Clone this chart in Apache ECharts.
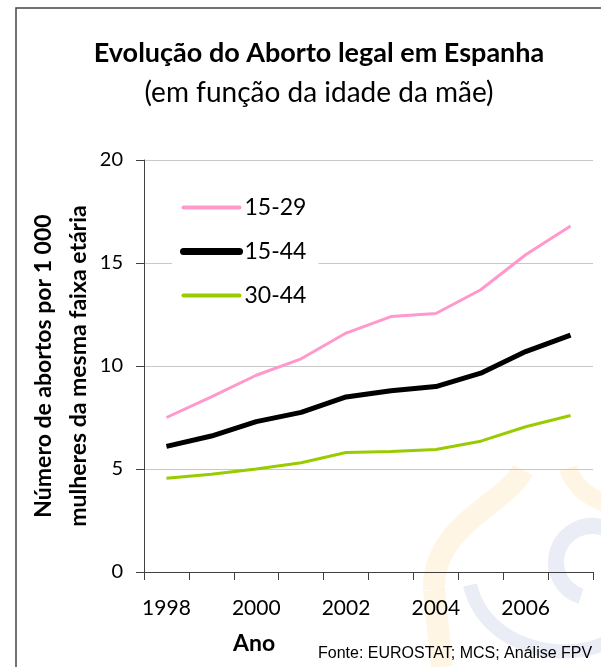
<!DOCTYPE html>
<html>
<head>
<meta charset="utf-8">
<script src="https://cdn.jsdelivr.net/npm/echarts@6/dist/echarts.min.js"></script>
<style>
  html, body { margin: 0; padding: 0; background: #fff; }
  #chart { width: 601px; height: 667px; }
</style>
</head>
<body>
<div id="chart"></div>
<script>
var anos = ['1998', '1999', '2000', '2001', '2002', '2003', '2004', '2005', '2006', '2007'];
var idade15a29 = [7.5, 8.5, 9.55, 10.35, 11.6, 12.4, 12.55, 13.7, 15.4, 16.8];
var idade15a44 = [6.1, 6.6, 7.3, 7.75, 8.5, 8.8, 9.0, 9.65, 10.7, 11.5];
var idade30a44 = [4.55, 4.75, 5.0, 5.3, 5.8, 5.85, 5.95, 6.35, 7.05, 7.6];

var fonte = 'Lato, "Open Sans", sans-serif';
var laranja = 'rgba(250,200,110,0.18)';
var azul = 'rgba(140,150,205,0.18)';
var myChart = echarts.init(document.getElementById('chart'));

var option = {
    backgroundColor: '#fff',
    textStyle: { fontFamily: fonte },
    animation: false,
    title: [
        {
            text: 'Evolução do Aborto legal em Espanha',
            left: 314, top: 35, textAlign: 'center',
            textStyle: { fontSize: 27, fontWeight: 'bold', color: '#000', fontFamily: fonte }
        },
        {
            text: '(em função da idade da mãe)',
            left: 314, top: 74, textAlign: 'center',
            textStyle: { fontSize: 28, fontWeight: 'normal', color: '#000', fontFamily: fonte }
        }
    ],
    legend: {
        orient: 'vertical',
        left: 172, top: 190,
        padding: [6, 12, 6, 8],
        backgroundColor: '#fff',
        itemWidth: 56, itemHeight: 14,
        itemGap: 21,
        itemStyle: { opacity: 0 },
        textStyle: { fontSize: 23, color: '#000', fontFamily: fonte },
        data: [
            { name: '15-29', lineStyle: { width: 4, cap: 'round' } },
            { name: '15-44', lineStyle: { width: 7, cap: 'round' } },
            { name: '30-44', lineStyle: { width: 4, cap: 'round' } }
        ]
    },
    grid: { left: 144, right: 8, top: 160, bottom: 95 },
    xAxis: {
        type: 'category',
        data: anos,
        boundaryGap: true,
        axisLine: { lineStyle: { color: '#404040', width: 1 } },
        axisTick: { show: true, interval: 0, length: 8, lineStyle: { color: '#404040' } },
        axisLabel: { interval: 1, fontSize: 21, color: '#000', margin: 26 },
        splitLine: { show: false }
    },
    yAxis: {
        type: 'value',
        min: 0, max: 20, interval: 5,
        axisLine: { show: true, lineStyle: { color: '#404040', width: 1 } },
        axisTick: { show: true, length: 8, lineStyle: { color: '#404040' } },
        axisLabel: { fontSize: 20, color: '#000', margin: 21 },
        splitLine: { lineStyle: { color: '#c8c8c8', width: 1 } }
    },
    graphic: [
        { type: 'rect', shape: { x: 16, y: 8, width: 800, height: 800 }, style: { fill: 'none', stroke: '#444', lineWidth: 1.5 }, silent: true },
        // marca de água (logótipo esbatido)
        { type: 'bezierCurve', shape: { x1: 523, y1: 470, cpx1: 505, cpy1: 505, cpx2: 432, cpy2: 525, x2: 434, y2: 590 }, style: { fill: 'none', stroke: laranja, lineWidth: 22 }, silent: true, z: -1 },
        { type: 'line', shape: { x1: 434, y1: 590, x2: 442, y2: 667 }, style: { stroke: laranja, lineWidth: 22 }, silent: true, z: -1 },
        { type: 'bezierCurve', shape: { x1: 568, y1: 468, cpx1: 575, cpy1: 490, cpx2: 595, cpy2: 500, x2: 610, y2: 505 }, style: { fill: 'none', stroke: laranja, lineWidth: 18 }, silent: true, z: -1 },
        { type: 'arc', shape: { cx: 592, cy: 562, r: 36, startAngle: Math.PI * 0.6, endAngle: Math.PI * 1.9 }, style: { fill: 'none', stroke: azul, lineWidth: 16 }, silent: true, z: -1 },
        { type: 'bezierCurve', shape: { x1: 470, y1: 585, cpx1: 485, cpy1: 650, cpx2: 570, cpy2: 665, x2: 610, y2: 640 }, style: { fill: 'none', stroke: azul, lineWidth: 14 }, silent: true, z: -1 },
        {
            type: 'text', x: 61, y: 366, rotation: Math.PI / 2,
            style: {
                text: 'Número de abortos por 1 000\nmulheres da mesma faixa etária',
                font: 'bold 23px ' + fonte, fill: '#000', align: 'center', verticalAlign: 'middle', lineHeight: 35
            }
        },
        { type: 'text', left: 233, top: 632, style: { text: 'Ano', font: 'bold 23px ' + fonte, fill: '#000' } },
        { type: 'text', left: 318, top: 646, style: { text: 'Fonte: EUROSTAT; MCS; Análise FPV', font: '16px "Liberation Sans", Arial, sans-serif', fill: '#000' } }
    ],
    series: [
        {
            name: '15-29', type: 'line', data: idade15a29,
            symbol: 'none', color: '#ff99cc',
            lineStyle: { color: '#ff99cc', width: 3 }
        },
        {
            name: '15-44', type: 'line', data: idade15a44,
            symbol: 'none', color: '#000000',
            lineStyle: { color: '#000000', width: 5 }
        },
        {
            name: '30-44', type: 'line', data: idade30a44,
            symbol: 'none', color: '#99cc00',
            lineStyle: { color: '#99cc00', width: 3 }
        }
    ]
};

myChart.setOption(option);
</script>
</body>
</html>
